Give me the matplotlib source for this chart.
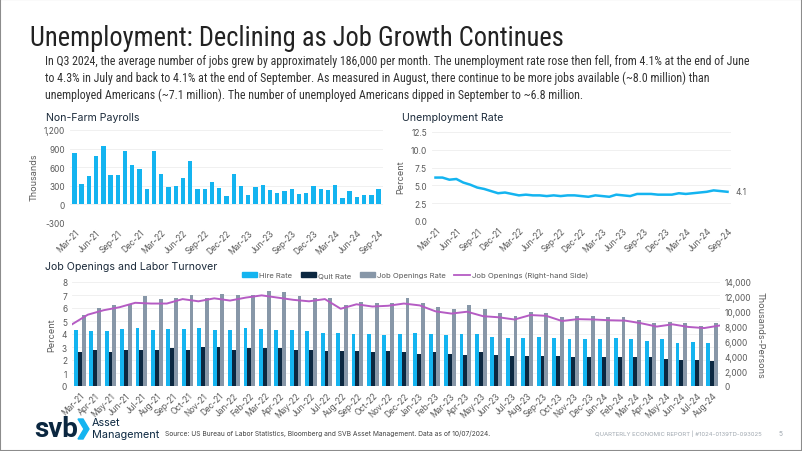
import numpy as np
import pandas as pd
import matplotlib
matplotlib.use("Agg")
import matplotlib.pyplot as plt
from matplotlib import font_manager
from matplotlib.patches import Rectangle, Polygon, Patch
from matplotlib.lines import Line2D

W, H = 802, 452

# ---- data ----
nfp_months = list(pd.date_range("2021-03-01", "2024-09-01", freq="MS").strftime("%b-%y"))
nfp = [835, 322, 458, 785, 949, 469, 480, 867, 638, 567,
       251, 867, 496, 278, 295, 420, 693, 245, 256, 360, 262, 136,
       491, 289, 147, 278, 305, 240, 185, 213, 245, 164, 180, 289,
       256, 235, 311, 98, 213, 115, 144, 159, 254]

unrate = [6.1, 6.1, 5.8, 5.9, 5.4, 5.1, 4.7, 4.5, 4.2, 3.9,
          4.0, 3.8, 3.6, 3.7, 3.6, 3.6, 3.5, 3.6, 3.5, 3.6, 3.6, 3.5,
          3.4, 3.6, 3.5, 3.4, 3.7, 3.6, 3.5, 3.8, 3.8, 3.8, 3.7, 3.7,
          3.7, 3.9, 3.8, 3.9, 4.0, 4.1, 4.3, 4.2, 4.1]

jolts_months = list(pd.date_range("2021-03-01", "2024-08-01", freq="MS").strftime("%b-%y"))
hire_rate = [4.3, 4.2, 4.2, 4.4, 4.5, 4.3, 4.4, 4.4, 4.5, 4.3,
             4.3, 4.5, 4.4, 4.3, 4.3, 4.2, 4.1, 4.1, 4.0, 4.0, 3.9, 4.0,
             4.1, 4.0, 3.9, 4.0, 4.0, 3.8, 3.7, 3.7, 3.8, 3.7, 3.6, 3.6,
             3.6, 3.7, 3.6, 3.5, 3.6, 3.3, 3.4, 3.3]
quit_rate = [2.6, 2.8, 2.6, 2.8, 2.8, 2.8, 2.9, 2.8, 3.0, 3.0,
             2.8, 2.9, 2.9, 2.9, 2.8, 2.8, 2.7, 2.7, 2.7, 2.6, 2.7, 2.6,
             2.5, 2.6, 2.5, 2.4, 2.6, 2.4, 2.3, 2.3, 2.3, 2.3, 2.2, 2.2,
             2.2, 2.2, 2.2, 2.2, 2.1, 2.0, 2.0, 1.9]
openings_rate = [5.5, 6.0, 6.2, 6.3, 6.9, 6.7, 6.8, 7.0, 6.8, 7.1,
                 7.0, 7.0, 7.3, 7.2, 6.9, 6.8, 6.8, 6.2, 6.5, 6.4, 6.4, 6.8,
                 6.4, 6.1, 5.9, 6.2, 5.9, 5.6, 5.4, 5.7, 5.6, 5.3, 5.4, 5.4,
                 5.3, 5.3, 5.05, 4.85, 4.95, 4.85, 4.6, 4.85]
openings = [8300, 9600, 10200, 10600, 11200, 11100, 11100, 11700, 11400, 11800,
            11500, 11900, 12200, 11900, 11600, 11400, 11700, 10400, 11000, 10700, 10800, 11100,
            10850, 10050, 9750, 10000, 9400, 9250, 8950, 9550, 9450, 8750, 9000, 8950,
            8850, 8800, 8450, 8000, 8300, 7950, 7800, 8150]

# ---- styling ----
BLUE = "#14B4F0"
NAVY = "#0B2740"
GREY_BAR = "#8797A8"
PURPLE = "#B55CC4"
TITLE_C = "#1B2A3A"
TICK_C = "#595959"
GRID_C = "#EEEEEE"
plt.rcParams["font.family"] = ["Inter", "DejaVu Sans"]

# narrow face for the heading text, if one is installed
installed = {f.name for f in font_manager.fontManager.ttflist}
NARROW = "Liberation Sans"
for cand in ["Liberation Sans Narrow", "DejaVu Sans Condensed", "Roboto Condensed", "Open Sans Condensed"]:
    if cand in installed:
        NARROW = cand
        break


def rect(x0, y0, x1, y1):
    # pixel box (top-left origin) -> figure fraction
    return [x0 / W, 1 - y1 / H, (x1 - x0) / W, (y1 - y0) / H]


def clean(ax):
    for s in ax.spines.values():
        s.set_visible(False)
    ax.tick_params(length=0, labelsize=6, labelcolor=TICK_C)
    ax.grid(axis="y", color=GRID_C, lw=0.6)
    ax.set_axisbelow(True)


def fit_width(txt, target_px):
    # shrink/grow font so the text spans target_px
    r = fig.canvas.get_renderer()
    w = txt.get_window_extent(renderer=r).width
    txt.set_fontsize(txt.get_fontsize() * target_px / w)


fig = plt.figure(figsize=(W / 100, H / 100), dpi=100)
fig.patches.append(Rectangle((0, 0), 1, 1, transform=fig.transFigure,
                             fill=False, ec="#8C8C8C", lw=1.5))

title = fig.text(30 / W, 1 - 38 / H, "Unemployment: Declining as Job Growth Continues",
                 family=NARROW, fontsize=19, color="#222222", va="center")
fit_width(title, 535)
body = ["In Q3 2024, the average number of jobs grew by approximately 186,000 per month. The unemployment rate rose then fell, from 4.1% at the end of June",
        "to 4.3% in July and back to 4.1% at the end of September. As measured in August, there continue to be more jobs available (~8.0 million) than",
        "unemployed Americans (~7.1 million). The number of unemployed Americans dipped in September to ~6.8 million."]
body_txt = [fig.text(45 / W, 1 - (62 + 16.5 * i) / H, line, family=NARROW,
                     fontsize=8.6, color="#333333", va="center") for i, line in enumerate(body)]
fit_width(body_txt[0], 703)
for t in body_txt[1:]:
    t.set_fontsize(body_txt[0].get_fontsize())

# ---- Non-Farm Payrolls ----
ax1 = fig.add_axes(rect(70, 131, 383, 224))
clean(ax1)
x1 = np.arange(len(nfp))
ax1.bar(x1, nfp, width=0.6, color=BLUE)
ax1.set_ylim(-300, 1200)
ax1.set_yticks([-300, 0, 300, 600, 900, 1200])
ax1.set_yticklabels(["-300", "0", "300", "600", "900", "1,200"])
ax1.set_xlim(-0.6, len(nfp) - 0.4)
ax1.set_xticks(x1[::3])
ax1.set_xticklabels(nfp_months[::3], rotation=45, ha="right", rotation_mode="anchor")
ax1.set_ylabel("Thousands", fontsize=6.5, color=TICK_C, labelpad=4)
fig.text(46 / W, 1 - 118 / H, "Non-Farm Payrolls", fontsize=7.6, color=TITLE_C, va="center")

# ---- Unemployment Rate ----
ax2 = fig.add_axes(rect(432, 133, 731, 222))
clean(ax2)
x2 = np.arange(len(unrate))
ax2.plot(x2, unrate, color=BLUE, lw=1.8)
ax2.set_ylim(0, 12.5)
ax2.set_yticks([0, 2.5, 5, 7.5, 10, 12.5])
ax2.set_yticklabels(["0.0", "2.5", "5.0", "7.5", "10.0", "12.5"])
ax2.set_xlim(-0.5, len(unrate) - 0.5)
ax2.set_xticks(x2[::3])
ax2.set_xticklabels(nfp_months[::3], rotation=45, ha="right", rotation_mode="anchor")
ax2.set_ylabel("Percent", fontsize=6.5, color=TICK_C, labelpad=4)
ax2.annotate(f"{unrate[-1]:.1f}", (x2[-1], unrate[-1]), xytext=(6, 0),
             textcoords="offset points", fontsize=6, color=TICK_C, va="center")
fig.text(402 / W, 1 - 118 / H, "Unemployment Rate", fontsize=7.6, color=TITLE_C, va="center")

# ---- Job Openings and Labor Turnover ----
ax3 = fig.add_axes(rect(72, 283, 720, 387))
clean(ax3)
x3 = np.arange(len(hire_rate))
bw = 0.25
ax3.bar(x3 - bw, hire_rate, width=bw, color=BLUE)
ax3.bar(x3, quit_rate, width=bw, color=NAVY)
ax3.bar(x3 + bw, openings_rate, width=bw, color=GREY_BAR)
ax3.set_ylim(0, 8)
ax3.set_yticks(range(0, 9))
ax3.set_xlim(-0.5, len(hire_rate) - 0.5)
ax3.set_xticks(x3)
ax3.set_xticklabels(jolts_months, rotation=45, ha="right", rotation_mode="anchor")
ax3.set_ylabel("Percent", fontsize=6.5, color=TICK_C, labelpad=4)

ax4 = ax3.twinx()
for s in ax4.spines.values():
    s.set_visible(False)
ax4.tick_params(length=0, labelsize=6, labelcolor=TICK_C)
xl = np.linspace(-0.5, len(openings) - 0.5, len(openings))
ax4.plot(xl, openings, color=PURPLE, lw=1.4)
ax4.set_ylim(0, 14000)
ax4.set_yticks(range(0, 14001, 2000))
ax4.set_yticklabels([f"{v:,}" for v in range(0, 14001, 2000)])
ax4.set_ylabel("Thousands-Persons", fontsize=6.5, color=TICK_C, rotation=270, labelpad=9)
fig.text(45 / W, 1 - 267 / H, "Job Openings and Labor Turnover", fontsize=7.6, color=TITLE_C, va="center")

handles = [Patch(color=BLUE), Patch(color=NAVY), Patch(color=GREY_BAR),
           Line2D([], [], color=PURPLE, lw=1.3)]
labels = ["Hire Rate", "Quit Rate", "Job Openings Rate", "Job Openings (Right-hand Side)"]
fig.legend(handles, labels, loc="center", bbox_to_anchor=(415 / W, 1 - 276 / H), ncol=4,
           frameon=False, fontsize=5.5, handlelength=2.0, handleheight=0.6,
           handletextpad=0.3, columnspacing=1.1, labelcolor=TICK_C)

# ---- footer ----
fig.text(34 / W, 1 - 430 / H, "svb", fontsize=20, fontweight="bold", color=NAVY, va="center",
         family=["Roboto", "DejaVu Sans"])
fig.patches.append(Polygon([[78 / W, 1 - 420 / H], [83 / W, 1 - 420 / H], [89 / W, 1 - 430 / H],
                            [83 / W, 1 - 440 / H], [78 / W, 1 - 440 / H], [84 / W, 1 - 430 / H]],
                           closed=True, transform=fig.transFigure, color=BLUE))
fig.text(92 / W, 1 - 423 / H, "Asset", fontsize=7.8, color=NAVY, va="center")
fig.text(92 / W, 1 - 435 / H, "Management", fontsize=7.8, color=NAVY, va="center")
fig.text(165 / W, 1 - 434 / H,
         "Source: US Bureau of Labor Statistics, Bloomberg and SVB Asset Management. Data as of 10/07/2024.",
         fontsize=4.8, color="#404040", va="center")
fig.text(762 / W, 1 - 434 / H, "QUARTERLY ECONOMIC REPORT | #1024-0139TD-093025",
         fontsize=4.3, color="#A0A8B0", va="center", ha="right")
fig.text(779 / W, 1 - 434 / H, "5", fontsize=4.8, color="#A0A8B0", va="center")

fig.savefig("out.png", dpi=100, facecolor="white")
